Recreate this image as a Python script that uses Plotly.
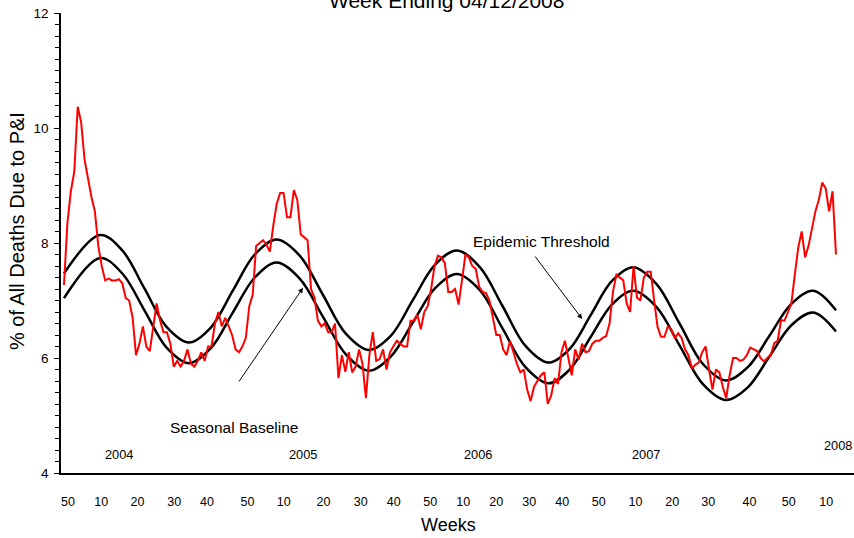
import plotly.graph_objects as go

# ---- data ----
# weekly % of deaths due to P&I, week index 0 = week 49/2003 ... 225 = week 14/2008
pi_pct = [
    7.27, 8.35, 8.9, 9.24, 10.37, 10.1, 9.45, 9.1, 8.8, 8.55,
    7.95, 7.6, 7.35, 7.38, 7.35, 7.35, 7.37, 7.3, 7.04, 7.0,
    6.7, 6.05, 6.25, 6.55, 6.2, 6.12, 6.5, 6.95, 6.65, 6.45,
    6.45, 6.25, 5.85, 5.95, 5.85, 5.95, 6.15, 5.9, 5.85, 5.95,
    6.1, 5.95, 6.2, 6.2, 6.6, 6.8, 6.55, 6.7, 6.55, 6.4,
    6.15, 6.1, 6.2, 6.35, 6.9, 7.1, 7.95, 8.0, 8.05, 7.97,
    7.85, 8.3, 8.68, 8.87, 8.87, 8.45, 8.45, 8.92, 8.75, 8.15,
    8.1, 8.05, 7.2, 7.05, 6.65, 6.55, 6.6, 6.45, 6.45, 6.6,
    5.65, 6.05, 5.76, 6.1, 5.75, 5.85, 6.15, 5.9, 5.3, 6.05,
    6.45, 5.95, 5.98, 6.15, 5.8, 6.1, 6.2, 6.3, 6.25, 6.2,
    6.2, 6.65, 6.65, 6.75, 6.5, 6.8, 6.9, 7.2, 7.6, 7.78,
    7.75, 7.65, 7.15, 7.15, 7.2, 6.93, 7.35, 7.8, 7.75, 7.6,
    7.55, 7.24, 7.15, 7.13, 7.0, 6.7, 6.4, 6.4, 6.15, 6.05,
    6.3, 6.1, 5.9, 5.75, 5.8, 5.45, 5.25, 5.5, 5.6, 5.7,
    5.75, 5.2, 5.35, 5.65, 5.55, 6.1, 6.3, 6.0, 5.7, 6.15,
    5.97, 6.25, 6.1, 6.12, 6.25, 6.3, 6.3, 6.35, 6.38, 6.6,
    7.15, 7.45, 7.4, 7.35, 6.95, 6.8, 7.6, 7.05, 7.0, 7.4,
    7.5, 7.5, 7.0, 6.54, 6.37, 6.37, 6.55, 6.5, 6.34, 6.43,
    6.35, 6.15, 6.05, 5.82, 5.88, 5.92, 6.1, 6.2, 5.8, 5.45,
    5.8, 5.75, 5.5, 5.3, 5.7, 6.0, 6.0, 5.95, 5.97, 6.05,
    6.18, 6.15, 6.12, 6.0, 5.94, 6.0, 6.05, 6.26, 6.3, 6.66,
    6.65, 6.8, 6.95, 7.45, 7.92, 8.2, 7.75, 7.95, 8.25, 8.55,
    8.75, 9.05, 8.95, 8.55, 8.9, 7.8,
]
weeks = list(range(len(pi_pct)))

# seasonal baseline / epidemic threshold, read at selected weeks
curve_weeks = [0, 10.5, 17.0, 23.45, 29.9, 36.4, 42.8, 49.2, 55.6, 62.0,
               68.7, 75.45, 82.2, 88.9, 95.3, 101.7, 108.1, 114.5, 121.2, 127.85,
               134.5, 141.2, 147.4, 153.55, 159.7, 165.9, 172.65, 179.4, 186.15, 192.9,
               199.3, 205.65, 212.0, 218.4, 225]
baseline = [7.04, 7.74, 7.47, 6.83, 6.18, 5.91, 6.17, 6.79, 7.40, 7.66,
            7.38, 6.72, 6.06, 5.78, 6.03, 6.62, 7.21, 7.46, 7.18, 6.51,
            5.84, 5.56, 5.80, 6.37, 6.93, 7.17, 6.89, 6.22, 5.55, 5.27,
            5.49, 6.03, 6.57, 6.79, 6.46]
threshold = [7.47, 8.14, 7.87, 7.21, 6.54, 6.27, 6.53, 7.17, 7.80, 8.06,
             7.78, 7.10, 6.42, 6.14, 6.39, 7.01, 7.62, 7.87, 7.58, 6.90,
             6.21, 5.92, 6.16, 6.75, 7.34, 7.58, 7.29, 6.60, 5.90, 5.61,
             5.84, 6.39, 6.94, 7.17, 6.83]

week_tick_labels = ["50", "10", "20", "30", "40", "50", "10", "20", "30", "40", "50",
                    "10", "20", "30", "40", "50", "10", "20", "30", "40", "50", "10"]
week_tick_pos = [1.17, 10.84, 21.42, 32.12, 41.68, 53.48, 64.06, 75.63, 86.51, 96.09, 106.76,
                 116.38, 125.97, 135.59, 145.21, 155.84, 166.57, 177.27, 187.76, 199.80, 211.25, 222.18]

year_labels = ["2004", "2005", "2006", "2007", "2008"]
year_pos = [16.09, 69.6, 120.66, 169.57, 225.45]
year_y = [4.33, 4.33, 4.33, 4.33, 4.47]

FONT = "Liberation Sans, Arial, sans-serif"

fig = go.Figure()
fig.add_trace(go.Scatter(x=curve_weeks, y=threshold, mode="lines",
                         line=dict(color="black", width=2.5, shape="spline", smoothing=1.0),
                         hoverinfo="skip"))
fig.add_trace(go.Scatter(x=curve_weeks, y=baseline, mode="lines",
                         line=dict(color="black", width=2.5, shape="spline", smoothing=1.0),
                         hoverinfo="skip"))
fig.add_trace(go.Scatter(x=weeks, y=pi_pct, mode="lines",
                         line=dict(color="#ff0000", width=2)))

annotations = []
for lab, xp, yp in zip(year_labels, year_pos, year_y):
    annotations.append(dict(x=xp, y=yp, xref="x", yref="y", text=lab, showarrow=False,
                            font=dict(family=FONT, size=12.8, color="black")))

# labels and arrows
annotations.append(dict(x=49.55, y=4.80, xref="x", yref="y", text="Seasonal Baseline",
                        showarrow=False, font=dict(family=FONT, size=15.5, color="black")))
annotations.append(dict(x=139.3, y=8.02, xref="x", yref="y", text="Epidemic Threshold",
                        showarrow=False, font=dict(family=FONT, size=15.5, color="black")))
annotations.append(dict(x=69.66, y=7.22, xref="x", yref="y", ax=50.7, ay=5.565,
                        axref="x", ayref="y", text="", showarrow=True, arrowhead=2,
                        arrowsize=1, arrowwidth=1, arrowcolor="black"))
annotations.append(dict(x=151.0, y=6.68, xref="x", yref="y", ax=137.0, ay=7.79,
                        axref="x", ayref="y", text="", showarrow=True, arrowhead=2,
                        arrowsize=1, arrowwidth=1, arrowcolor="black"))

# titles
annotations.append(dict(x=0.486, y=1.028, xref="paper", yref="paper", text="Week Ending 04/12/2008",
                        showarrow=False, xanchor="center", yanchor="middle",
                        font=dict(family=FONT, size=21, color="black")))
annotations.append(dict(x=0.4887, y=-0.113, xref="paper", yref="paper", text="Weeks",
                        showarrow=False, xanchor="center", yanchor="middle",
                        font=dict(family=FONT, size=18, color="black")))
annotations.append(dict(x=-0.0555, y=0.526, xref="paper", yref="paper",
                        text="% of All Deaths Due to P&amp;I", textangle=-90,
                        showarrow=False, xanchor="center", yanchor="middle",
                        font=dict(family=FONT, size=20, color="black")))

fig.update_layout(
    width=854, height=538,
    margin=dict(l=61, r=0, t=13, b=65),
    paper_bgcolor="white", plot_bgcolor="white",
    showlegend=False,
    annotations=annotations,
    font=dict(family=FONT, color="black"),
)
fig.update_xaxes(range=[-0.87, 230.25], showgrid=False, zeroline=False,
                 showline=True, linecolor="black", linewidth=1.5,
                 tickmode="array", tickvals=week_tick_pos, ticktext=week_tick_labels,
                 ticks="", ticklabelstandoff=16,
                 tickfont=dict(family=FONT, size=12.5, color="black"))
fig.update_yaxes(range=[4, 12], showgrid=False, zeroline=False,
                 showline=True, linecolor="black", linewidth=1.5,
                 tickmode="linear", tick0=4, dtick=2,
                 ticks="outside", ticklen=5, tickwidth=1, tickcolor="black",
                 ticklabelstandoff=3,
                 minor=dict(dtick=0.2, tick0=4, ticks="outside", ticklen=4, tickwidth=1,
                            tickcolor="black", showgrid=False),
                 tickfont=dict(family=FONT, size=13.5, color="black"))

fig.write_html("out.html")
